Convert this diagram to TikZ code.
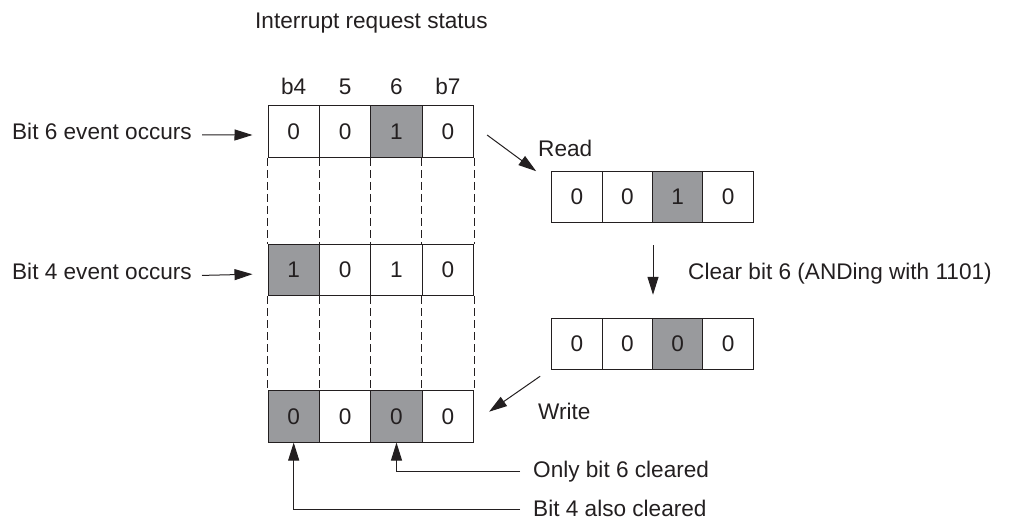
\documentclass[tikz,border=0pt]{standalone}
\usepackage{fontspec}
\setmainfont{Liberation Sans}
\usetikzlibrary{arrows.meta}
\definecolor{inkgray}{RGB}{35,31,32}
\definecolor{bitgray}{RGB}{153,154,157}

\begin{document}
\begin{tikzpicture}[
  x=1pt, y=-1pt,
  every node/.style={font=\fontsize{22.6}{27}\selectfont, text=inkgray},
  lbl/.style={inner sep=0pt},
  bit/.style={draw=inkgray, line width=1pt, minimum width=51.4pt, minimum height=51.5pt, inner sep=0pt},
  hot/.style={bit, fill=bitgray},
  arr/.style={draw=inkgray, line width=1pt, -{Triangle[length=18pt,width=11pt]}},
  guide/.style={draw=inkgray, line width=0.8pt, dash pattern=on 8pt off 4pt}
]
\useasboundingbox (0,0) rectangle (1013,522);

\node[lbl, anchor=base west] (title) at (255,28.3) {Interrupt request status};

% bit numbers
\node[lbl, anchor=base] (h4) at (293.7,94) {b4};
\node[lbl, anchor=base] (h5) at (345.1,94) {5};
\node[lbl, anchor=base] (h6) at (396.5,94) {6};
\node[lbl, anchor=base] (h7) at (447.9,94) {b7};

% status register, three moments
\node[bit] (s1a) at (293.7,131.5) {0};
\node[bit] (s1b) at (345.1,131.5) {0};
\node[hot] (s1c) at (396.5,131.5) {1};
\node[bit] (s1d) at (447.9,131.5) {0};

\node[hot] (s2a) at (293.7,270.2) {1};
\node[bit] (s2b) at (345.1,270.2) {0};
\node[bit] (s2c) at (396.5,270.2) {1};
\node[bit] (s2d) at (447.9,270.2) {0};

\node[hot] (s3a) at (293.7,416.3) {0};
\node[bit] (s3b) at (345.1,416.3) {0};
\node[hot] (s3c) at (396.5,416.3) {0};
\node[bit] (s3d) at (447.9,416.3) {0};

\draw[guide] (s1a.south west) -- (s2a.north west);
\draw[guide] (s1b.south west) -- (s2b.north west);
\draw[guide] (s1c.south west) -- (s2c.north west);
\draw[guide] (s1d.south west) -- (s2d.north west);
\draw[guide] (s1d.south east) -- (s2d.north east);
\draw[guide] (s2a.south west) -- (s3a.north west);
\draw[guide] (s2b.south west) -- (s3b.north west);
\draw[guide] (s2c.south west) -- (s3c.north west);
\draw[guide] (s2d.south west) -- (s3d.north west);
\draw[guide] (s2d.south east) -- (s3d.north east);

% events
\node[lbl, anchor=base east] (ev6) at (192,139.5) {Bit 6 event occurs};
\node[lbl, anchor=base east] (ev4) at (192,279.5) {Bit 4 event occurs};
\draw[arr] ([shift={(10,3.5)}]ev6.east) -- ([shift={(-15,3.5)}]s1a.west);
\draw[arr] ([shift={(10,4)}]ev4.east) -- ([shift={(-15,4)}]s2a.west);

% read / modify / write
\node[bit, minimum width=50.4pt, minimum height=51pt] (rd1) at (576.9,197.2) {0};
\node[bit, minimum width=50.4pt, minimum height=51pt] (rd2) at (627.3,197.2) {0};
\node[hot, minimum width=50.4pt, minimum height=51pt] (rd3) at (677.7,197.2) {1};
\node[bit, minimum width=50.4pt, minimum height=51pt] (rd4) at (728.1,197.2) {0};

\node[bit, minimum width=50.4pt, minimum height=51pt] (wr1) at (576.9,343.8) {0};
\node[bit, minimum width=50.4pt, minimum height=51pt] (wr2) at (627.3,343.8) {0};
\node[hot, minimum width=50.4pt, minimum height=51pt] (wr3) at (677.7,343.8) {0};
\node[bit, minimum width=50.4pt, minimum height=51pt] (wr4) at (728.1,343.8) {0};

\node[lbl, anchor=base west] (readlbl) at (538,156) {Read};
\node[lbl, anchor=base west] (clearlbl) at (688,279) {Clear bit 6 (ANDing with 1101)};
\node[lbl, anchor=base west] (writelbl) at (538,419) {Write};

\draw[arr] ([shift={(13,3.5)}]s1d.east) -- ([shift={(-15,0)}]rd1.north west);
\draw[arr] ([shift={(0,22)}]rd2.south east) -- ([shift={(0,-23)}]wr2.north east);
\draw[arr] ([shift={(-11,6.4)}]wr1.south west) -- ([shift={(15,-4.6)}]s3d.east);

% results
\node[lbl, anchor=base west] (only6) at (533,477) {Only bit 6 cleared};
\node[lbl, anchor=base west] (also4) at (533,516) {Bit 4 also cleared};
\draw[arr] ([xshift=-13]only6.west) -| (s3c.south);
\draw[arr] ([shift={(-13,2)}]also4.west) -| (s3a.south);
\end{tikzpicture}
\end{document}
